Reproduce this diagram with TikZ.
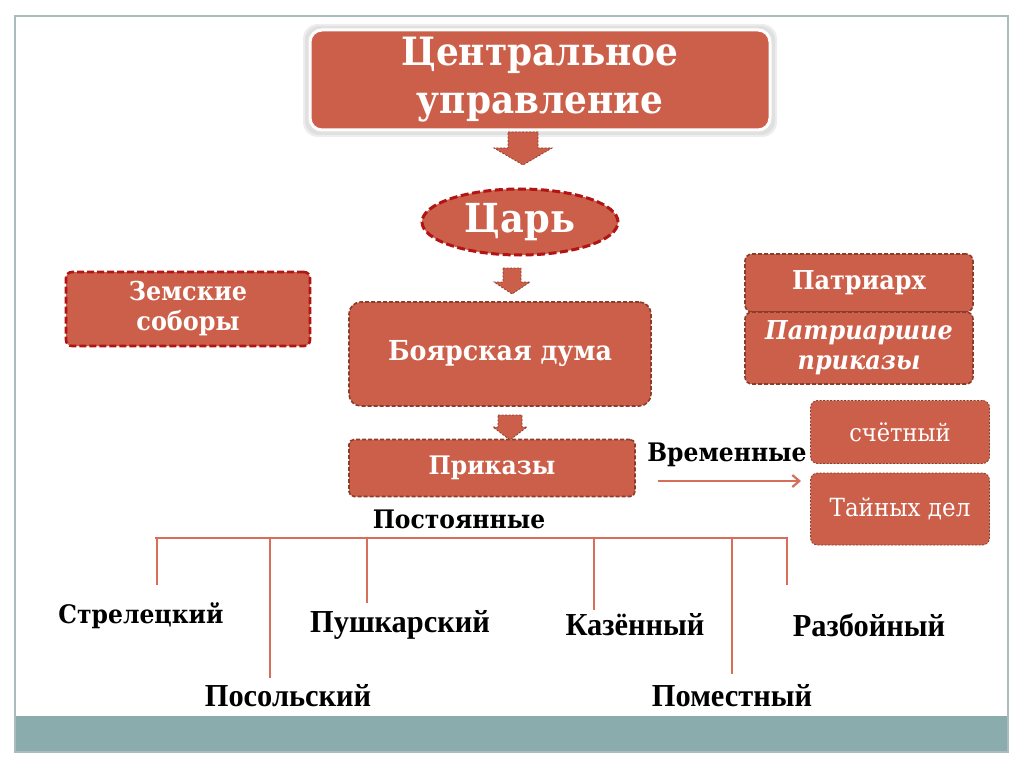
\documentclass[tikz,border=0pt]{standalone}
\usepackage{fontspec}
\usetikzlibrary{shapes.geometric,calc,arrows.meta}
\newfontfamily\geo[FakeStretch=0.92]{DejaVu Serif}
\newfontfamily\tnr[FakeStretch=0.95]{Liberation Serif}
\definecolor{boxfill}{RGB}{204,95,73}
\definecolor{redline}{RGB}{178,20,20}
\definecolor{brownline}{RGB}{140,60,44}
\definecolor{treeline}{RGB}{215,110,90}
\definecolor{teal}{RGB}{138,172,172}
\definecolor{frameline}{RGB}{172,188,188}
\tikzset{
  box/.style={fill=boxfill, text=white, align=center, inner sep=2pt, font=\geo\bfseries},
  redbox/.style={box, draw=redline, line width=2.6pt, dash pattern=on 7pt off 3pt, rounded corners=6pt},
  brownbox/.style={box, draw=brownline, line width=1.6pt, dash pattern=on 4pt off 2pt, rounded corners=7pt},
  thinbox/.style={box, draw=brownline, line width=0.8pt, dash pattern=on 2pt off 1.5pt, rounded corners=7pt, font=\geo},
  blockarrow/.style={fill=boxfill, draw=brownline, line width=0.8pt, dash pattern=on 2pt off 1.5pt},
  blabel/.style={font=\geo\bfseries, text=black, inner sep=1pt},
  tlabel/.style={font=\tnr\bfseries\fontsize{32}{34}\selectfont, text=black, inner sep=1pt},
  twig/.style={draw=treeline, line width=1.3pt},
}
\begin{document}
\begin{tikzpicture}[x=1pt,y=-1pt]
\useasboundingbox (0,0) rectangle (1024,767);
% slide frame
\fill[teal] (15,716) rectangle (1008,752);
\draw[frameline, line width=1.4pt] (15,16) rectangle (1008,752);
% central box with glow
\fill[black!7, rounded corners=15pt] (303,24) rectangle (777,137);
\fill[black!12, rounded corners=14pt] (305,26) rectangle (775,135);
\node[box, draw=white, line width=3pt, rounded corners=12pt, minimum width=460pt, minimum height=100pt,
      font=\geo\bfseries\fontsize{39}{48}\selectfont] (central) at (540,80) {Центральное\\управление};
% tsar
\node[ellipse, fill=boxfill, text=white, draw=redline, line width=3pt, dash pattern=on 8pt off 3.5pt,
      minimum width=196pt, minimum height=66pt, inner sep=0pt,
      font=\geo\bfseries\fontsize{40}{44}\selectfont] (tsar) at (520,222) {Царь};
% zemskie
\node[redbox, minimum width=244pt, minimum height=74pt, font=\geo\bfseries\fontsize{26}{30}\selectfont] (zem) at (188,309) {Земские\\соборы};
% boyar duma
\node[brownbox, rounded corners=12pt, minimum width=302pt, minimum height=104pt, font=\geo\bfseries\fontsize{27.5}{30}\selectfont] (duma) at (500,354) {Боярская дума};
% prikazy
\node[brownbox, rounded corners=5pt, minimum width=286pt, minimum height=57pt, font=\geo\bfseries\fontsize{25.5}{28}\selectfont] (prik) at (492,468) {Приказы};
% patriarch
\node[brownbox, minimum width=228pt, minimum height=58pt, font=\geo\bfseries\fontsize{26}{28}\selectfont] (patr) at (859,283) {Патриарх};
\node[brownbox, minimum width=228pt, minimum height=72pt, font=\geo\bfseries\itshape\fontsize{26}{30}\selectfont] (patrp) at (859,348) {Патриаршие\\приказы};
% temporary
\node[thinbox, minimum width=179pt, minimum height=63pt, font=\geo\fontsize{24.5}{28}\selectfont] (schet) at (900,432) {счётный};
\node[thinbox, minimum width=179pt, minimum height=72pt, font=\geo\fontsize{25}{28}\selectfont] (tayn) at (900,509) {Тайных дел};
\node[blabel, font=\geo\bfseries\fontsize{25.5}{28}\selectfont] (vrem) at (727,455) {Временные};
\coordinate (vs) at (658,481);
\coordinate (ve) at (801,481);
\draw[treeline, line width=2.2pt, -{Straight Barb[length=7pt,width=12pt]}] (vs) -- (ve);
% block arrows
\coordinate (a1) at (523,132);
\draw[blockarrow] (a1) ++(-15,0) -- ++(30,0) -- ++(0,16) -- ++(14,0) -- (523,165) -- (494,148) -- ++(14,0) -- cycle;
\coordinate (a2) at (512,268);
\draw[blockarrow] (a2) ++(-9,0) -- ++(18,0) -- ++(0,14) -- ++(9,0) -- (512,294) -- (494,282) -- ++(9,0) -- cycle;
\coordinate (a3) at (510,415);
\draw[blockarrow] (a3) ++(-12,0) -- ++(24,0) -- ++(0,12) -- ++(5,0) -- (510,440) -- (493,427) -- ++(5,0) -- cycle;
% postoyannye tree
\node[blabel, font=\geo\bfseries\fontsize{25.5}{28}\selectfont] (post) at (459,519) {Постоянные};
\coordinate (bl) at (155,538);
\coordinate (br) at (788,538);
\draw[treeline, line width=2.6pt] (bl) -- (br);
\node[blabel, font=\geo\bfseries\fontsize{25.5}{28}\selectfont] (strel) at (141,616) {Стрелецкий};
\node[tlabel] (push) at (400,625) {Пушкарский};
\node[tlabel] (kaz) at (635,625) {Казённый};
\node[tlabel] (razb) at (869,625) {Разбойный};
\node[tlabel] (posol) at (288,696) {Посольский};
\node[tlabel] (pomest) at (732,696) {Поместный};
\foreach \x/\y in {157/585, 270/678, 367/603, 594/610, 732/674, 787/585}{
  \draw[twig] (\x,538) -- (\x,\y);
}
\end{tikzpicture}
\end{document}
